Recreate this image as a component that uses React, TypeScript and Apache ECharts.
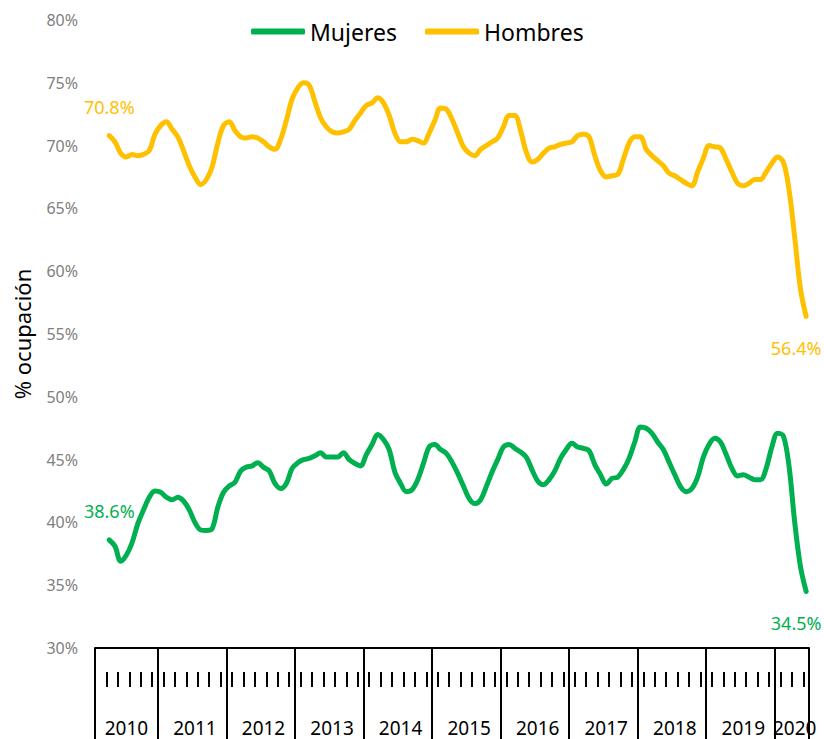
import React, { useEffect, useRef } from "react";
import * as echarts from "echarts";

// Monthly categories: Feb 2010 .. Jun 2020
const years = [2010, 2011, 2012, 2013, 2014, 2015, 2016, 2017, 2018, 2019, 2020];
const firstMonth = 2; // of first year
const lastMonth = 6; // of last year
const categories: string[] = [];
years.forEach((y, yi) => {
  const m0 = yi === 0 ? firstMonth : 1;
  const m1 = yi === years.length - 1 ? lastMonth : 12;
  for (let m = m0; m <= m1; m++) categories.push(`${y}-${String(m).padStart(2, "0")}`);
});

const mujeres: (number | null)[] = [
  null, null, 38.6, 38.1, 36.9, 37.4, 38.4, 39.9, 41.0, 42.0, 42.5,
  42.4, 42.0, 41.8, 42.0, 41.7, 41.0, 40.0, 39.4, 39.35, 39.5, 41.2, 42.4,
  42.9, 43.2, 44.1, 44.4, 44.5, 44.75, 44.4, 44.1, 43.1, 42.7, 43.1, 44.3,
  44.75, 45.0, 45.1, 45.3, 45.55, 45.2, 45.2, 45.2, 45.55, 45.0, 44.7, 44.5,
  45.4, 46.2, 47.0, 46.6, 45.8, 44.0, 43.1, 42.45, 42.6, 43.4, 44.7, 46.0,
  46.2, 45.8, 45.5, 44.8, 43.9, 42.9, 41.9, 41.5, 41.8, 42.85, 44.0, 45.0,
  46.0, 46.2, 45.9, 45.6, 45.2, 44.2, 43.3, 43.0, 43.4, 44.1, 45.1, 45.8,
  46.3, 46.0, 45.9, 45.7, 44.6, 43.8, 43.05, 43.5, 43.6, 44.2, 45.1, 46.4,
  47.6, 47.5, 47.1, 46.4, 45.8, 44.8, 43.8, 42.85, 42.45, 42.7, 43.6, 45.2,
  46.2, 46.7, 46.4, 45.4, 44.3, 43.7, 43.8, 43.6, 43.4, 43.4, 44.3, 46.0,
  47.1, 46.9, 44.5, 40.0, 36.5, 34.5,
];

const hombres: (number | null)[] = [
  null, null, 70.8, 70.3, 69.4, 69.1, 69.3, 69.2, 69.3, 69.6, 70.9,
  71.6, 71.9, 71.3, 70.7, 69.6, 68.4, 67.5, 66.9, 67.3, 68.3, 70.2, 71.6,
  71.9, 71.2, 70.7, 70.6, 70.7, 70.6, 70.3, 69.9, 69.7, 70.5, 72.0, 73.7,
  74.6, 75.0, 74.8, 73.5, 72.2, 71.5, 71.1, 71.0, 71.1, 71.3, 72.0, 72.6,
  73.2, 73.4, 73.8, 73.4, 72.4, 71.0, 70.3, 70.3, 70.5, 70.4, 70.2, 71.0,
  72.0, 73.0, 72.9, 72.1, 71.0, 69.9, 69.4, 69.2, 69.7, 70.0, 70.3, 70.6,
  71.5, 72.4, 72.4, 71.2, 69.5, 68.7, 68.9, 69.4, 69.8, 69.9, 70.1, 70.2,
  70.3, 70.8, 70.9, 70.7, 69.2, 68.0, 67.5, 67.6, 67.7, 68.9, 70.2, 70.7,
  70.7, 69.7, 69.2, 68.8, 68.4, 67.8, 67.6, 67.3, 67.0, 66.8, 67.9, 69.0,
  70.0, 69.9, 69.8, 68.9, 67.9, 67.0, 66.8, 67.0, 67.3, 67.3, 67.9, 68.6,
  69.1, 68.7, 66.5, 62.7, 58.6, 56.4,
];

const seriesNames = ["Mujeres", "Hombres"];
const seriesColors = ["#00B050", "#FFC000"];
const yTicks = { min: 30, max: 80, interval: 5 };

const FONT = "Noto Sans";

function withEndLabels(values: (number | null)[], color: string) {
  const first = values.findIndex((v) => v !== null);
  const last = values.length - 1;
  const fmt = (p: any) => Number(p.value).toFixed(1) + "%";
  return values.map((v, i) => {
    if (i === first) {
      return {
        value: v,
        symbol: "circle",
        symbolSize: 1,
        label: { show: true, position: "top", distance: 19, color, fontSize: 18, fontFamily: FONT, formatter: fmt },
      };
    }
    if (i === last) {
      return {
        value: v,
        symbol: "circle",
        symbolSize: 1,
        label: { show: true, position: "bottom", distance: 22, offset: [-10, 0], color, fontSize: 18, fontFamily: FONT, formatter: fmt },
      };
    }
    return v;
  });
}

export default function App() {
  const ref = useRef<HTMLDivElement>(null);
  useEffect(() => {
    if (!ref.current) return;
    const chart = echarts.init(ref.current, undefined, { renderer: "svg" });
    const monthOf = (v: string) => parseInt(v.slice(5), 10);
    const yearOf = (v: string) => parseInt(v.slice(0, 4), 10);
    const option: any = {
      animation: false,
      backgroundColor: "#ffffff",
      legend: {
        data: seriesNames,
        top: 15,
        left: 246,
        itemWidth: 54,
        itemHeight: 6,
        itemGap: 28,
        icon: "roundRect",
        textStyle: { fontSize: 23, fontFamily: FONT, color: "#000" },
      },
      grid: { left: 95, right: 15, top: 20, bottom: 91, containLabel: false, outerBoundsMode: "none" },
      xAxis: [
        {
          type: "category",
          data: categories,
          boundaryGap: true,
          position: "bottom",
          axisLine: { show: true, lineStyle: { color: "#000", width: 2 } },
          axisTick: {
            show: true,
            length: 95,
            lineStyle: { color: "#000", width: 2 },
            interval: (i: number, v: string) => i === 0 || monthOf(v) === 1,
          },
          axisLabel: {
            show: true,
            margin: 70,
            fontSize: 19,
            fontFamily: FONT,
            color: "#000",
            interval: (i: number, v: string) => {
              const y = yearOf(v);
              const m = monthOf(v);
              if (y === years[years.length - 1]) return m === 4;
              return m === 7;
            },
            formatter: (v: string) => v.slice(0, 4),
          },
          splitLine: { show: false },
        },
        {
          type: "category",
          data: categories,
          boundaryGap: true,
          position: "bottom",
          offset: 24,
          axisLine: { show: false },
          axisTick: { show: true, length: 15, interval: 1, lineStyle: { color: "#000", width: 2 } },
          axisLabel: { show: false },
          splitLine: { show: false },
        },
      ],
      yAxis: {
        type: "value",
        min: yTicks.min,
        max: yTicks.max,
        interval: yTicks.interval,
        name: "% ocupación",
        nameLocation: "middle",
        nameRotate: 90,
        nameGap: 62,
        nameMoveOverlap: false,
        nameTextStyle: { fontSize: 22, fontFamily: FONT, color: "#000" },
        axisLine: { show: false },
        axisTick: { show: false },
        splitLine: { show: false },
        axisLabel: { formatter: "{value}%", fontSize: 16, fontFamily: FONT, color: "#808080", margin: 17 },
      },
      series: [
        {
          name: seriesNames[0],
          type: "line",
          xAxisIndex: 0,
          data: withEndLabels(mujeres, seriesColors[0]),
          smooth: 0.35,
          showSymbol: true,
          showAllSymbol: true,
          symbol: "none",
          lineStyle: { color: seriesColors[0], width: 5, cap: "round", join: "round" },
          itemStyle: { color: seriesColors[0] },
        },
        {
          name: seriesNames[1],
          type: "line",
          xAxisIndex: 0,
          data: withEndLabels(hombres, seriesColors[1]),
          smooth: 0.35,
          showSymbol: true,
          showAllSymbol: true,
          symbol: "none",
          lineStyle: { color: seriesColors[1], width: 5, cap: "round", join: "round" },
          itemStyle: { color: seriesColors[1] },
        },
      ],
    };
    chart.setOption(option);
    return () => chart.dispose();
  }, []);
  return <div ref={ref} style={{ position: "fixed", left: 0, top: 0, width: 824, height: 739 }} />;
}
